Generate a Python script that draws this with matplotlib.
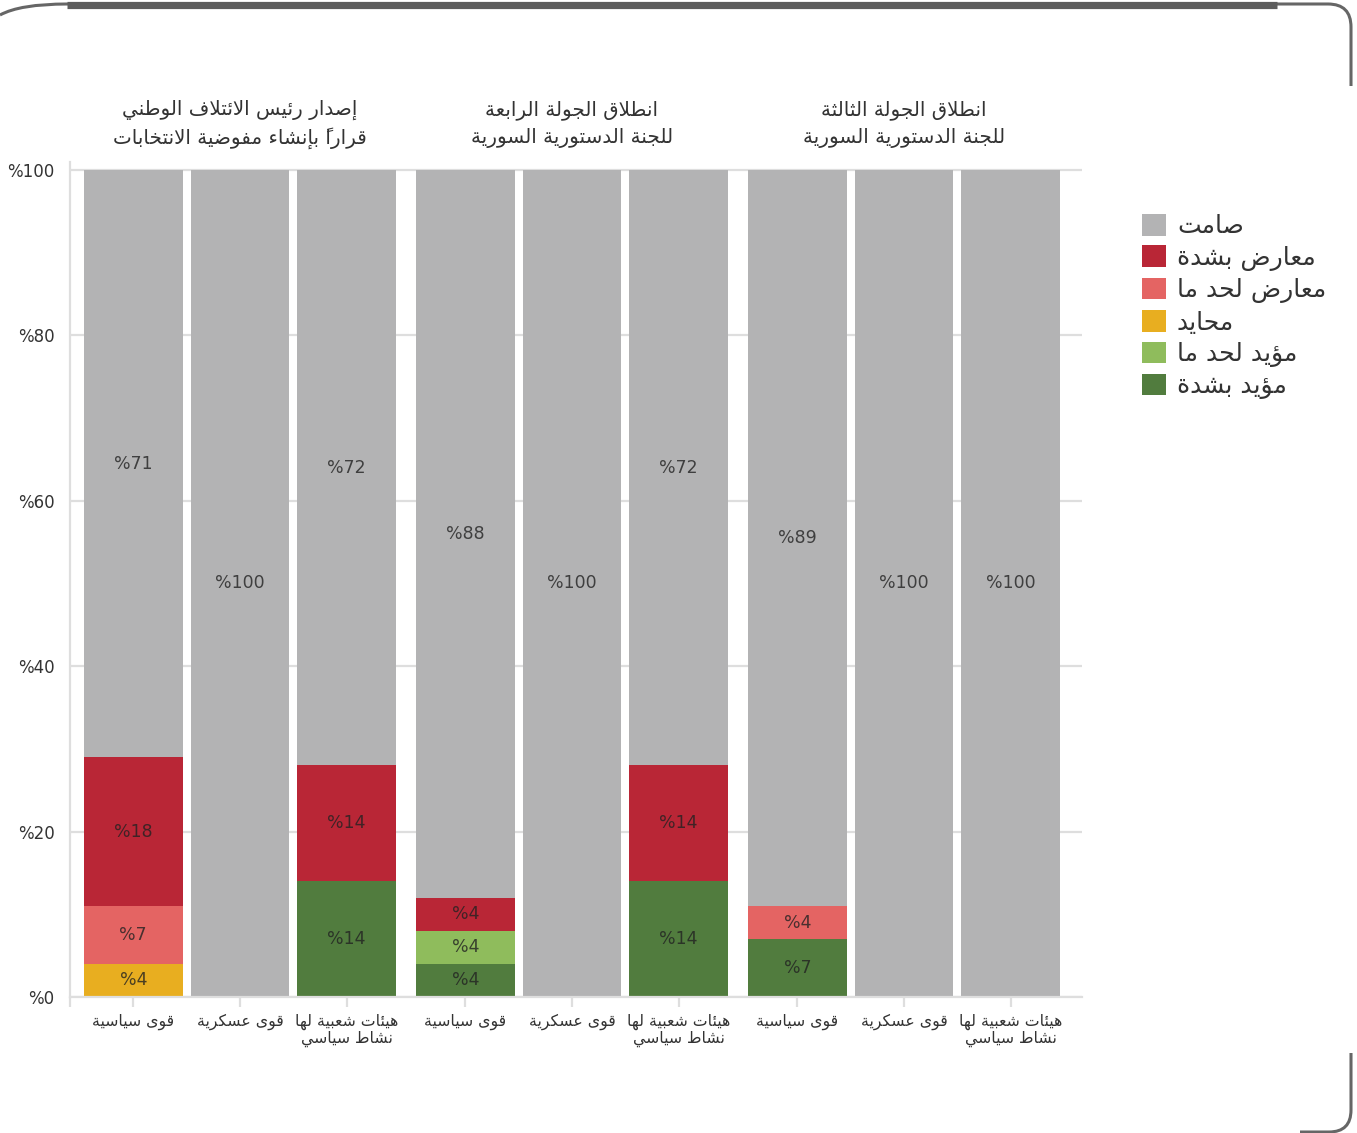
import numpy as np
import matplotlib
matplotlib.use("Agg")
import matplotlib.pyplot as plt
from matplotlib.ticker import FuncFormatter
from matplotlib.transforms import blended_transform_factory
from matplotlib.path import Path
from matplotlib.patches import PathPatch

# ---------------------------------------------------------------- data
group_titles = [
    "إصدار رئيس الائتلاف الوطني\nقراراً بإنشاء مفوضية الانتخابات",
    "انطلاق الجولة الرابعة\nللجنة الدستورية السورية",
    "انطلاق الجولة الثالثة\nللجنة الدستورية السورية",
]
actors = ["قوى سياسية", "قوى عسكرية", "هيئات شعبية لها\nنشاط سياسي"]

# stances, bottom of the stack first
stances = ["مؤيد بشدة", "مؤيد لحد ما", "محايد", "معارض لحد ما", "معارض بشدة", "صامت"]
strongly_support = [0, 0, 14, 4, 0, 14, 7, 0, 0]
somewhat_support = [0, 0, 0, 4, 0, 0, 0, 0, 0]
neutral = [4, 0, 0, 0, 0, 0, 0, 0, 0]
somewhat_oppose = [7, 0, 0, 0, 0, 0, 4, 0, 0]
strongly_oppose = [18, 0, 14, 4, 0, 14, 0, 0, 0]
silent = [71, 100, 72, 88, 100, 72, 89, 100, 100]
stance_colors = ["#517c3e", "#8fbc5c", "#e8ae20", "#e46463", "#b92636", "#b3b3b4"]
y_ticks = [0, 20, 40, 60, 80, 100]

series = [strongly_support, somewhat_support, neutral,
          somewhat_oppose, strongly_oppose, silent]

# ------------------------------------------------ arabic contextual shaping
_SEQ = [(0x0621, 1), (0x0622, 2), (0x0623, 2), (0x0624, 2), (0x0625, 2),
        (0x0626, 4), (0x0627, 2), (0x0628, 4), (0x0629, 2), (0x062A, 4),
        (0x062B, 4), (0x062C, 4), (0x062D, 4), (0x062E, 4), (0x062F, 2),
        (0x0630, 2), (0x0631, 2), (0x0632, 2), (0x0633, 4), (0x0634, 4),
        (0x0635, 4), (0x0636, 4), (0x0637, 4), (0x0638, 4), (0x0639, 4),
        (0x063A, 4), (0x0641, 4), (0x0642, 4), (0x0643, 4), (0x0644, 4),
        (0x0645, 4), (0x0646, 4), (0x0647, 4), (0x0648, 2), (0x0649, 2),
        (0x064A, 4)]
_FORMS = {}
_pos = 0xFE80
for _cp, _n in _SEQ:
    # isolated, final, initial, medial
    _FORMS[_cp] = tuple(chr(_pos + k) for k in range(_n))
    _pos += _n
_LAM_ALEF = {0x0622: ("\uFEF5", "\uFEF6"), 0x0623: ("\uFEF7", "\uFEF8"),
             0x0625: ("\uFEF9", "\uFEFA"), 0x0627: ("\uFEFB", "\uFEFC")}


def _shape_line(line):
    toks = []
    i = 0
    while i < len(line):
        c = ord(line[i])
        if 0x064B <= c <= 0x0652 and toks:
            toks[-1][1] += line[i]
            i += 1
            continue
        if c == 0x0644 and i + 1 < len(line) and ord(line[i + 1]) in _LAM_ALEF:
            toks.append([_LAM_ALEF[ord(line[i + 1])], ""])
            i += 2
            continue
        toks.append([_FORMS.get(c, line[i]), ""])
        i += 1
    out = []
    for k, (f, marks) in enumerate(toks):
        if isinstance(f, str):
            out.append(marks + f)
            continue
        prev = toks[k - 1][0] if k > 0 else None
        nxt = toks[k + 1][0] if k + 1 < len(toks) else None
        jp = len(f) >= 2 and isinstance(prev, tuple) and len(prev) == 4
        jn = len(f) == 4 and isinstance(nxt, tuple) and len(nxt) >= 2
        idx = 3 if (jp and jn) else 1 if jp else 2 if jn else 0
        # zero-width marks are drawn over the glyph that follows them
        out.append(marks + f[idx])
    return "".join(reversed(out))


def ar(text):
    return "\n".join(_shape_line(l) for l in text.split("\n"))


# ---------------------------------------------------------------- layout
plt.rcParams["font.family"] = ["DejaVu Sans"]
W, H = 1357, 1133
fig = plt.figure(figsize=(W / 100, H / 100), dpi=100)
fig.patch.set_facecolor("white")

TEXT = "#333333"
GRID = "#dedede"

n_groups, per_group = 3, 3
group_gap = 0.112
bar_w = 0.925
idx = np.arange(n_groups * per_group)
x = (idx // per_group) * (per_group + group_gap) + idx % per_group

ax = fig.add_axes([70 / W, (H - 997) / H, 1012 / W, (997 - 162) / H])
ax.set_xlim(-0.593, x[-1] + 0.668)
ax.set_ylim(0, 100 * 835 / 827)

bottom = np.zeros(len(x))
containers = []
for name, vals, col in zip(stances, series, stance_colors):
    vals = np.asarray(vals, dtype=float)
    bc = ax.bar(x, vals, bar_w, bottom=bottom, color=col, label=ar(name),
                zorder=3, linewidth=0)
    containers.append(bc)
    for xi, b, v in zip(x, bottom, vals):
        if v > 0:
            ax.text(xi, b + v / 2, f"%{v:.0f}", ha="center", va="center",
                    fontsize=12.5, color="#222222", alpha=0.8, zorder=4)
    bottom += vals

# grid and axes
ax.set_yticks(y_ticks)
ax.yaxis.set_major_formatter(FuncFormatter(lambda v, p: f"%{v:.0f}"))
ax.grid(axis="y", color=GRID, linewidth=1.6, zorder=0)
ax.tick_params(axis="y", length=0, pad=11, labelsize=12, labelcolor=TEXT)
ax.set_xticks(list(x) + [ax.get_xlim()[0]])
ax.set_xticklabels([ar(actors[i % 3]) for i in range(len(x))] + [""],
                   linespacing=1.1)
ax.tick_params(axis="x", length=7, width=1.6, color=GRID, pad=5,
               labelsize=11.3, labelcolor=TEXT)
for s in ["top", "right"]:
    ax.spines[s].set_visible(False)
for s in ["left", "bottom"]:
    ax.spines[s].set_color(GRID)
    ax.spines[s].set_linewidth(1.6)
ax.spines["bottom"].set_zorder(5)

# group titles
tr = blended_transform_factory(ax.transData, fig.transFigure)
for g, title in enumerate(group_titles):
    cx = x[g * per_group + 1]
    for j, line in enumerate(title.split("\n")):
        yy = [110, 138][j]
        ax.text(cx, 1 - yy / H, ar(line), transform=tr, ha="center",
                va="center", fontsize=14.3, color=TEXT, clip_on=False)

# legend, top category first
handles = containers[::-1]
fig.legend(handles, [h.get_label() for h in handles], loc="upper left",
           bbox_to_anchor=(1142 / W, 1 - 214 / H), frameon=False,
           fontsize=18, handlelength=0.95, handleheight=0.95,
           handletextpad=0.45, labelspacing=0.28, labelcolor=TEXT,
           borderaxespad=0, borderpad=0)

# card frame
fr = fig.add_axes([0, 0, 1, 1], zorder=-1)
fr.set_xlim(0, W)
fr.set_ylim(H, 0)
fr.axis("off")
fr.plot([67, 1277], [4.5, 4.5], color="#5c5c5c", lw=5.2,
        solid_capstyle="butt")
edge = dict(facecolor="none", edgecolor="#666666", lw=2.2)
top_path = Path([(0, 15), (20, 4), (67, 4), (1328, 4), (1351, 4),
                 (1351, 27), (1351, 86)],
                [Path.MOVETO, Path.CURVE3, Path.CURVE3, Path.LINETO,
                 Path.CURVE3, Path.CURVE3, Path.LINETO])
fr.add_patch(PathPatch(top_path, **edge))
bot_path = Path([(1351, 1053), (1351, 1110), (1351, 1132), (1329, 1132),
                 (1300, 1132)],
                [Path.MOVETO, Path.LINETO, Path.CURVE3, Path.CURVE3,
                 Path.LINETO])
fr.add_patch(PathPatch(bot_path, **edge))

fig.savefig("out.png", dpi=100, facecolor="white")
